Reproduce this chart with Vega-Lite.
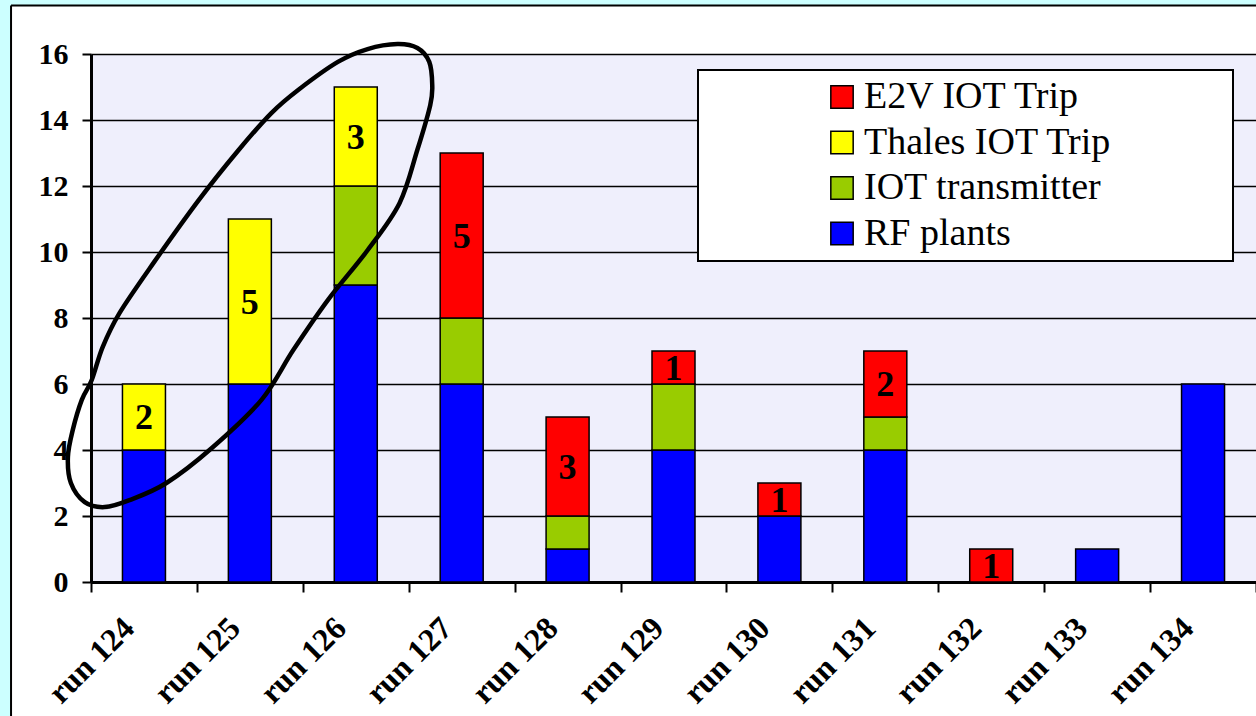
{
  "$schema": "https://vega.github.io/schema/vega-lite/v6.json",
  "width": 1165,
  "height": 528,
  "autosize": {"type": "none"},
  "padding": {"left": 91, "top": 54, "right": 0, "bottom": 134},
  "background": "white",
  "config": {
    "view": {"stroke": null, "fill": "#efeffc"},
    "font": "Liberation Serif",
    "legend": {"strokeWidth": 2}
  },
  "resolve": {"scale": {"x": "independent"}, "axis": {"x": "independent", "y": "independent"}},
  "layer": [
    {
      "data": {
        "values": [
          {"run": "run 124", "series": "RF plants", "k": 1, "v": 4},
          {"run": "run 124", "series": "Thales IOT Trip", "k": 3, "v": 2},
          {"run": "run 125", "series": "RF plants", "k": 1, "v": 6},
          {"run": "run 125", "series": "Thales IOT Trip", "k": 3, "v": 5},
          {"run": "run 126", "series": "RF plants", "k": 1, "v": 9},
          {"run": "run 126", "series": "IOT transmitter", "k": 2, "v": 3},
          {"run": "run 126", "series": "Thales IOT Trip", "k": 3, "v": 3},
          {"run": "run 127", "series": "RF plants", "k": 1, "v": 6},
          {"run": "run 127", "series": "IOT transmitter", "k": 2, "v": 2},
          {"run": "run 127", "series": "E2V IOT Trip", "k": 4, "v": 5},
          {"run": "run 128", "series": "RF plants", "k": 1, "v": 1},
          {"run": "run 128", "series": "IOT transmitter", "k": 2, "v": 1},
          {"run": "run 128", "series": "E2V IOT Trip", "k": 4, "v": 3},
          {"run": "run 129", "series": "RF plants", "k": 1, "v": 4},
          {"run": "run 129", "series": "IOT transmitter", "k": 2, "v": 2},
          {"run": "run 129", "series": "E2V IOT Trip", "k": 4, "v": 1},
          {"run": "run 130", "series": "RF plants", "k": 1, "v": 2},
          {"run": "run 130", "series": "E2V IOT Trip", "k": 4, "v": 1},
          {"run": "run 131", "series": "RF plants", "k": 1, "v": 4},
          {"run": "run 131", "series": "IOT transmitter", "k": 2, "v": 1},
          {"run": "run 131", "series": "E2V IOT Trip", "k": 4, "v": 2},
          {"run": "run 132", "series": "E2V IOT Trip", "k": 4, "v": 1},
          {"run": "run 133", "series": "RF plants", "k": 1, "v": 1},
          {"run": "run 134", "series": "RF plants", "k": 1, "v": 6}
        ]
      },
      "layer": [
        {
          "mark": {"type": "bar", "stroke": "black", "strokeWidth": 1.5, "width": {"band": 0.406}},
          "encoding": {
            "x": {
              "field": "run", "type": "nominal",
              "scale": {"paddingInner": 0, "paddingOuter": 0},
              "axis": {
                "title": null, "labelAngle": -45, "labelFont": "Liberation Serif",
                "labelFontWeight": "bold", "labelFontSize": 32, "labelColor": "black",
                "tickBand": "extent", "tickSize": 10, "tickWidth": 2, "tickColor": "black",
                "domainColor": "black", "domainWidth": 3, "labelPadding": 20,
                "labelOffset": -26, "labelAlign": "right", "labelBaseline": "top", "grid": false
              }
            },
            "y": {
              "field": "v", "type": "quantitative", "stack": "zero",
              "scale": {"domain": [0, 16], "nice": false},
              "axis": {
                "title": null, "values": [0, 2, 4, 6, 8, 10, 12, 14, 16],
                "grid": true, "gridColor": "black", "gridWidth": 1.5, "gridOpacity": 1,
                "tickSize": 9, "tickWidth": 2, "tickColor": "black",
                "domainColor": "black", "domainWidth": 3,
                "labelFont": "Liberation Serif", "labelFontWeight": "bold",
                "labelFontSize": 30, "labelColor": "black", "labelPadding": 14
              }
            },
            "color": {
              "field": "series", "type": "nominal",
              "scale": {
                "domain": ["E2V IOT Trip", "Thales IOT Trip", "IOT transmitter", "RF plants"],
                "range": ["#ff0000", "#ffff00", "#99cc00", "#0000ff"]
              },
              "legend": {
                "title": ".", "titleOrient": "right", "titleColor": "white", "titleFontSize": 8,
                "titlePadding": 111,
                "orient": "none", "legendX": 607, "legendY": 16,
                "direction": "vertical", "fillColor": "white", "strokeColor": "black",
                "padding": 8, "symbolType": "square", "symbolSize": 500,
                "symbolStrokeColor": "black", "symbolStrokeWidth": 1.5, "symbolOpacity": 1,
                "symbolOffset": 117, "labelOffset": 3,
                "labelFont": "Liberation Serif", "labelFontSize": 38, "labelColor": "black",
                "labelLimit": 800, "rowPadding": 7.5
              }
            },
            "order": {"field": "k", "type": "quantitative"}
          }
        },
        {
          "transform": [
            {"stack": "v", "groupby": ["run"], "sort": [{"field": "k", "order": "ascending"}], "as": ["s0", "s1"]},
            {"filter": "datum.series == 'E2V IOT Trip' || datum.series == 'Thales IOT Trip'"},
            {"calculate": "(datum.s0 + datum.s1) / 2", "as": "mid"}
          ],
          "mark": {"type": "text", "font": "Liberation Serif", "fontWeight": "bold", "fontSize": 36, "color": "black", "baseline": "middle", "dy": 1},
          "encoding": {
            "x": {"field": "run", "type": "nominal"},
            "y": {"field": "mid", "type": "quantitative", "scale": {"domain": [0, 16], "nice": false}},
            "text": {"field": "v", "type": "quantitative"}
          }
        }
      ]
    },
    {
      "layer": [
        {
          "data": {"values": [{}]},
          "mark": {"type": "rect", "color": "#ccffff", "stroke": null},
          "encoding": {
            "x": {"datum": -1.5, "type": "quantitative", "scale": {"domain": [0, 11], "nice": false, "zero": false}, "axis": null},
            "x2": {"datum": 12},
            "y": {"datum": 17.47, "type": "quantitative", "scale": {"domain": [0, 16], "nice": false}, "axis": null},
            "y2": {"datum": 19}
          }
        },
        {
          "data": {"values": [{}]},
          "mark": {"type": "rect", "color": "#ccffff", "stroke": null},
          "encoding": {
            "x": {"datum": -1.5, "type": "quantitative", "scale": {"domain": [0, 11], "nice": false, "zero": false}, "axis": null},
            "x2": {"datum": -0.755},
            "y": {"datum": -5, "type": "quantitative", "scale": {"domain": [0, 16], "nice": false}, "axis": null},
            "y2": {"datum": 19}
          }
        },
        {
          "data": {"values": [{}]},
          "mark": {"type": "rule", "color": "black", "strokeWidth": 2},
          "encoding": {
            "x": {"datum": -0.755, "type": "quantitative", "scale": {"domain": [0, 11], "nice": false, "zero": false}, "axis": null},
            "x2": {"datum": 12},
            "y": {"datum": 17.47, "type": "quantitative", "scale": {"domain": [0, 16], "nice": false}, "axis": null}
          }
        },
        {
          "data": {"values": [{}]},
          "mark": {"type": "rule", "color": "black", "strokeWidth": 2},
          "encoding": {
            "x": {"datum": -0.755, "type": "quantitative", "scale": {"domain": [0, 11], "nice": false, "zero": false}, "axis": null},
            "y": {"datum": -5, "type": "quantitative", "scale": {"domain": [0, 16], "nice": false}, "axis": null},
            "y2": {"datum": 17.47}
          }
        },
        {
          "data": {
            "values": [
              {"i": 1, "ex": 0.712, "ey": 3.0},
              {"i": 2, "ex": 0.363, "ey": 2.48},
              {"i": 3, "ex": 0.129, "ey": 2.27},
              {"i": 4, "ex": -0.059, "ey": 2.42},
              {"i": 5, "ex": -0.19, "ey": 3.0},
              {"i": 6, "ex": -0.218, "ey": 3.79},
              {"i": 7, "ex": -0.172, "ey": 4.61},
              {"i": 8, "ex": -0.087, "ey": 5.52},
              {"i": 9, "ex": 0.007, "ey": 6.12},
              {"i": 10, "ex": 0.11, "ey": 7.12},
              {"i": 11, "ex": 0.269, "ey": 8.15},
              {"i": 12, "ex": 0.597, "ey": 9.7},
              {"i": 13, "ex": 1.019, "ey": 11.58},
              {"i": 14, "ex": 1.394, "ey": 13.09},
              {"i": 15, "ex": 1.703, "ey": 14.21},
              {"i": 16, "ex": 1.956, "ey": 14.91},
              {"i": 17, "ex": 2.331, "ey": 15.76},
              {"i": 18, "ex": 2.612, "ey": 16.15},
              {"i": 19, "ex": 2.894, "ey": 16.3},
              {"i": 20, "ex": 3.082, "ey": 16.18},
              {"i": 21, "ex": 3.194, "ey": 15.76},
              {"i": 22, "ex": 3.222, "ey": 15.06},
              {"i": 23, "ex": 3.203, "ey": 14.45},
              {"i": 24, "ex": 3.081, "ey": 13.09},
              {"i": 25, "ex": 2.913, "ey": 11.48},
              {"i": 26, "ex": 2.613, "ey": 10.06},
              {"i": 27, "ex": 2.238, "ey": 8.55},
              {"i": 28, "ex": 1.91, "ey": 7.03},
              {"i": 29, "ex": 1.61, "ey": 5.52},
              {"i": 30, "ex": 1.141, "ey": 4.06}
            ]
          },
          "mark": {"type": "line", "color": "black", "strokeWidth": 4.5, "interpolate": "cardinal-closed"},
          "encoding": {
            "x": {"field": "ex", "type": "quantitative", "scale": {"domain": [0, 11], "nice": false, "zero": false}, "axis": null},
            "y": {"field": "ey", "type": "quantitative", "scale": {"domain": [0, 16], "nice": false}, "axis": null},
            "order": {"field": "i", "type": "quantitative"}
          }
        }
      ]
    }
  ]
}
